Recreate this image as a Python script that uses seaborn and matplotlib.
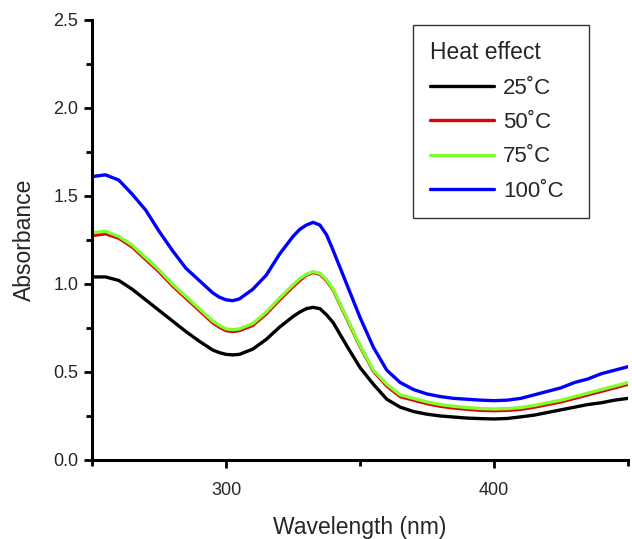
import numpy as np
import pandas as pd
import seaborn as sns
import matplotlib.pyplot as plt
from matplotlib.ticker import MultipleLocator

# Data ------------------------------------------------------------------------

wavelength = [250, 255, 260, 265, 270, 275, 280, 285, 290, 295,
              297.5, 300, 302.5, 305, 310, 315, 320, 325, 327.5, 330,
              332.5, 335, 337.5, 340, 345, 350, 355, 360, 365, 370,
              375, 380, 385, 390, 395, 400, 405, 410, 415, 420,
              425, 430, 435, 440, 445, 450]

abs_25 = [1.04, 1.04, 1.02, 0.97, 0.91, 0.85, 0.79, 0.73, 0.675, 0.625,
          0.61, 0.60, 0.597, 0.60, 0.63, 0.685, 0.755, 0.815, 0.84, 0.86,
          0.867, 0.86, 0.825, 0.78, 0.65, 0.525, 0.43, 0.345, 0.30, 0.275,
          0.26, 0.25, 0.244, 0.238, 0.235, 0.233, 0.236, 0.245, 0.255, 0.27,
          0.285, 0.30, 0.315, 0.325, 0.34, 0.35]

abs_50 = [1.275, 1.285, 1.26, 1.21, 1.14, 1.07, 0.99, 0.92, 0.85, 0.78,
          0.755, 0.735, 0.73, 0.735, 0.765, 0.83, 0.91, 0.985, 1.02, 1.05,
          1.065, 1.055, 1.02, 0.965, 0.805, 0.645, 0.505, 0.42, 0.36, 0.34,
          0.32, 0.305, 0.295, 0.288, 0.282, 0.28, 0.282, 0.288, 0.30, 0.315,
          0.33, 0.35, 0.37, 0.39, 0.41, 0.43]

abs_75 = [1.29, 1.30, 1.27, 1.22, 1.15, 1.08, 1.00, 0.93, 0.86, 0.79,
          0.765, 0.745, 0.74, 0.745, 0.775, 0.84, 0.92, 0.995, 1.03, 1.055,
          1.07, 1.06, 1.025, 0.97, 0.81, 0.65, 0.51, 0.43, 0.37, 0.35,
          0.33, 0.315, 0.305, 0.298, 0.292, 0.29, 0.292, 0.298, 0.31, 0.325,
          0.34, 0.36, 0.38, 0.40, 0.42, 0.44]

abs_100 = [1.61, 1.62, 1.59, 1.51, 1.42, 1.30, 1.19, 1.09, 1.02, 0.95,
           0.925, 0.91, 0.905, 0.915, 0.97, 1.05, 1.17, 1.27, 1.31, 1.335,
           1.35, 1.335, 1.28, 1.19, 1.00, 0.81, 0.64, 0.51, 0.44, 0.40,
           0.375, 0.36, 0.35, 0.345, 0.34, 0.337, 0.34, 0.35, 0.37, 0.39,
           0.41, 0.44, 0.46, 0.49, 0.51, 0.53]

labels = ["25˚C", "50˚C", "75˚C", "100˚C"]
colors = ["#000000", "#e00000", "#80ff30", "#0000ff"]

df = pd.concat([
    pd.DataFrame({"wavelength": wavelength, "absorbance": a, "temp": lab})
    for a, lab in zip([abs_25, abs_50, abs_75, abs_100], labels)
])

# Plot ------------------------------------------------------------------------

sns.set_style("ticks")
plt.rcParams["font.family"] = ["Liberation Sans", "DejaVu Sans"]

fig = plt.figure(figsize = (6.32, 5.39), dpi = 100)
ax = fig.add_axes([0.1456, 0.1466, 0.8481, 0.8164])

sns.lineplot(data = df, x = "wavelength", y = "absorbance", hue = "temp",
             hue_order = labels, palette = colors, linewidth = 2.4, ax = ax)

ax.set_xlim(250, 450)
ax.set_ylim(0, 2.5)
ax.xaxis.set_major_locator(MultipleLocator(100))
ax.xaxis.set_minor_locator(MultipleLocator(50))
ax.yaxis.set_major_locator(MultipleLocator(0.5))
ax.yaxis.set_minor_locator(MultipleLocator(0.25))
ax.yaxis.set_major_formatter(plt.FormatStrFormatter("%.1f"))

for s in ["top", "right"]:
    ax.spines[s].set_visible(False)
for s in ["left", "bottom"]:
    ax.spines[s].set_linewidth(2.2)
    ax.spines[s].set_color("black")

ax.tick_params(axis = "both", which = "major", length = 6, width = 2, color = "black", labelsize = 13)
ax.tick_params(axis = "both", which = "minor", length = 4, width = 2, color = "black")
ax.tick_params(axis = "x", which = "major", pad = 10)
ax.tick_params(axis = "y", which = "major", pad = 4)

ax.set_xlabel("Wavelength (nm)", fontsize = 16.5, labelpad = 12)
ax.set_ylabel("Absorbance", fontsize = 16.5, labelpad = 12)

# legend box stretched to the width of the original Origin-style frame
leg = ax.legend(title = "Heat effect", loc = "upper left",
                bbox_to_anchor = (0.599, 0.989, 0.328, 0.0), mode = "expand",
                borderaxespad = 0, fontsize = 16, title_fontsize = 16.5, frameon = True,
                fancybox = False, edgecolor = "black", handlelength = 2.9,
                handletextpad = 0.4, labelspacing = 0.6, alignment = "left",
                borderpad = 0.75)
leg.get_frame().set_linewidth(1.0)
for line in leg.get_lines():
    line.set_linewidth(2.4)

fig.savefig("out.png", dpi = 100)
